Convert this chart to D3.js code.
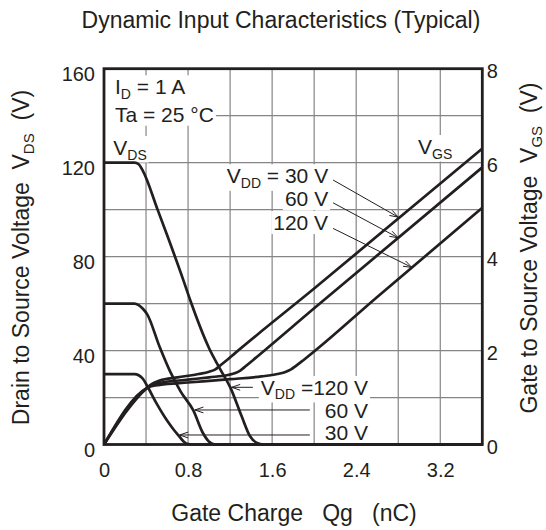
<!DOCTYPE html>
<html><head><meta charset="utf-8">
<script src="https://cdn.jsdelivr.net/npm/d3@7"></script>
<style>
html,body{margin:0;padding:0;background:#fff;}
svg text{font-family:"Liberation Sans",Arial,Helvetica,sans-serif;fill:#231f20;white-space:pre;}
</style></head><body>
<svg id="chart" width="546" height="530"></svg>
<script>
// ---------- data ----------
const qTicks   = [0, 0.8, 1.6, 2.4, 3.2];
const vdsTicks = [0, 40, 80, 120, 160];
const vgsTicks = [0, 2, 4, 6, 8];
const gridQ    = [0.4, 0.8, 1.2, 1.6, 2.0, 2.4, 2.8, 3.2];
const gridV    = [20, 40, 60, 80, 100, 120, 140];

// Drain-source voltage (V) vs gate charge (nC), left axis
const vds120 = [[0,120],[0.29,120],[0.33,119.3],[0.37,116.5],[0.51,100],[0.61,88],[0.755,70],[0.82,61.5],[1.0,41],[1.1,32.5],[1.207,23.8],[1.31,12],[1.39,3.5],[1.45,0.8],[1.52,0],[3.6,0]];
const vds60  = [[0,60],[0.29,60],[0.33,59.3],[0.37,57.8],[0.41,55.5],[0.53,41.5],[0.63,31],[0.73,22.5],[0.85,14.5],[0.94,5],[1.0,1.2],[1.06,0],[3.6,0]];
const vds30  = [[0,30],[0.29,30],[0.33,29.5],[0.37,28],[0.41,25],[0.5,17.5],[0.6,10.2],[0.66,6.5],[0.71,3.8],[0.76,1.2],[0.8,0.2],[0.84,0],[3.6,0]];

// Gate-source voltage (V) vs gate charge (nC), right axis
const vgs30  = [[0,0],[0.407,1.2],[0.45,1.28],[0.53,1.36],[0.7,1.43],[0.9,1.5],[1.0,1.55],[1.06,1.6],[1.1,1.67],[1.15,1.76],[1.25,1.95],[2.0,3.32],[3.6,6.3]];
const vgs60  = [[0,0],[0.407,1.2],[0.45,1.26],[0.53,1.31],[0.8,1.38],[1.0,1.43],[1.18,1.48],[1.25,1.52],[1.3,1.58],[1.35,1.67],[1.42,1.8],[2.0,2.9],[3.6,5.9]];
const vgs120 = [[0,0],[0.407,1.2],[0.45,1.24],[0.53,1.27],[0.8,1.32],[1.2,1.39],[1.5,1.45],[1.65,1.5],[1.72,1.54],[1.78,1.6],[1.83,1.68],[1.9,1.8],[2.6,3.14],[3.6,5.04]];

// ---------- layout ----------
const ink = "#231f20";
const svg = d3.select("#chart");
const x  = d3.scaleLinear().domain([0,3.6]).range([104,482.3]);
const yL = d3.scaleLinear().domain([0,160]).range([444.5,68.7]);
const yR = d3.scaleLinear().domain([0,8]).range([444.5,68.7]);

const gGrid  = svg.append("g");
const gBox   = svg.append("g");
const gCurve = svg.append("g");
const gArrow = svg.append("g");
const gFrame = svg.append("g");
const gText  = svg.append("g");

// grid
gGrid.selectAll("line.v").data(gridQ).join("line")
  .attr("x1",d=>x(d)).attr("x2",d=>x(d)).attr("y1",yL(0)).attr("y2",yL(160))
  .attr("stroke","#858585").attr("stroke-width",1.2);
gGrid.selectAll("line.h").data(gridV).join("line")
  .attr("y1",d=>yL(d)).attr("y2",d=>yL(d)).attr("x1",x(0)).attr("x2",x(3.6))
  .attr("stroke","#858585").attr("stroke-width",1.2);

// curves
const lineL = d3.line().x(d=>x(d[0])).y(d=>yL(d[1])).curve(d3.curveMonotoneX);
const lineR = d3.line().x(d=>x(d[0])).y(d=>yR(d[1])).curve(d3.curveMonotoneX);
[vds120, vds60, vds30].forEach(s=>gCurve.append("path").attr("d",lineL(s))
  .attr("fill","none").attr("stroke",ink).attr("stroke-width",2.7).attr("stroke-linejoin","round"));
[vgs30, vgs60, vgs120].forEach(s=>gCurve.append("path").attr("d",lineR(s))
  .attr("fill","none").attr("stroke",ink).attr("stroke-width",2.7).attr("stroke-linejoin","round"));

// frame
gFrame.append("rect").attr("x",x(0)).attr("y",yL(160)).attr("width",x(3.6)-x(0)).attr("height",yL(0)-yL(160))
  .attr("fill","none").attr("stroke",ink).attr("stroke-width",2.8);

// axes
function styleAxis(g){ g.select(".domain").remove(); g.attr("font-size",20).attr("font-family",null).attr("color",ink); }
const axB = svg.append("g").attr("transform",`translate(0,${yL(0)})`)
  .call(d3.axisBottom(x).tickValues(qTicks).tickSize(0).tickPadding(18).tickFormat(d=>d===0?"0":d3.format(".1f")(d)));
styleAxis(axB);
const axL = svg.append("g").attr("transform",`translate(${x(0)},0)`)
  .call(d3.axisLeft(yL).tickValues(vdsTicks).tickSize(0).tickPadding(9));
styleAxis(axL); axL.selectAll("text").attr("dy","0.61em");
const axR = svg.append("g").attr("transform",`translate(${x(3.6)},0)`)
  .call(d3.axisRight(yR).tickValues(vgsTicks).tickSize(0).tickPadding(4.5));
styleAxis(axR); axR.selectAll("text").attr("dy","0.46em");

// text helper with subscripts
function richText(g, px, py, parts, opts){
  const fs = opts.size, sub = opts.sub || Math.round(fs*0.67), sh = opts.shift || 4.5;
  const t = g.append("text").attr("x",px).attr("y",py).attr("font-size",fs)
    .attr("text-anchor",opts.anchor||"start").attr("xml:space","preserve");
  if(opts.transform) t.attr("transform",opts.transform);
  let down = false;
  parts.forEach(p=>{
    const ts = t.append("tspan").text(p[0]);
    if(p[1]){ ts.attr("font-size",sub).attr("dy", down?0:sh); down = true; }
    else { if(down){ ts.attr("dy",-sh); down=false; } }
  });
  return t;
}
function boxBehind(nodes, padX, padY, leftTo){
  let x0=1e9,y0=1e9,x1=-1e9,y1=-1e9;
  nodes.forEach(n=>{ const b=n.node().getBBox(); x0=Math.min(x0,b.x); y0=Math.min(y0,b.y); x1=Math.max(x1,b.x+b.width); y1=Math.max(y1,b.y+b.height); });
  if(leftTo!==undefined) x0 = leftTo+padX;
  gBox.append("rect").attr("x",x0-padX).attr("y",y0-padY).attr("width",x1-x0+2*padX).attr("height",y1-y0+2*padY).attr("fill","#fff");
}

// title
gText.append("text").attr("x",281).attr("y",28).attr("text-anchor","middle").attr("font-size",23)
  .text("Dynamic Input Characteristics (Typical)");

// axis titles
richText(gText, 294, 521, [["Gate Charge   Qg   (nC)"]], {size:23, anchor:"middle"});
richText(gText, 0, 0, [["Drain to Source Voltage  V"],["DS",1],["  (V)"]],
  {size:23, sub:15, shift:5, anchor:"middle", transform:"translate(28.5,257.5) rotate(-90)"});
richText(gText, 0, 0, [["Gate to Source Voltage  V"],["GS",1],["  (V)"]],
  {size:23, sub:15, shift:5, anchor:"middle", transform:"translate(537,248) rotate(-90)"});

// conditions
const c1 = richText(gText, 115, 94.3, [["I"],["D",1],[" = 1 A"]], {size:21, sub:14});
const c2 = richText(gText, 115, 121.7, [["Ta = 25 °C"]], {size:21});
boxBehind([c1,c2], 2, 0, x(0));

// curve group labels
const lv = richText(gText, 113.3, 155, [["V"],["DS",1]], {size:21, sub:14});
boxBehind([lv], 2, 0);
const lg = richText(gText, 418, 154, [["V"],["GS",1]], {size:21, sub:14});
boxBehind([lg], 2, 0);

// VGS VDD labels (top)
const topLab = [[[["V"],["DD",1],[" = 30 V"]], 111.2],[[["60 V"]],101.5],[[["120 V"]],91.3]];
topLab.forEach(l=>{ const t = richText(gText, x(2.133), yL(l[1]), l[0], {size:21, sub:14, anchor:"end"}); boxBehind([t],2,0); });
// VDS VDD labels (bottom)
const botLab = [[[["V"],["DD",1],[" =120 V"]], 21.1],[[["60 V"]],11.15],[[["30 V"]],1.9]];
botLab.forEach(l=>{ const t = richText(gText, x(2.513), yL(l[1]), l[0], {size:21, sub:14, anchor:"end"}); boxBehind([t],2,0); });

// arrows [tail nC, tail V(left scale), tip nC, tip V(left scale)]
const arrows = [
  [2.18,112.6, 2.80,yR.invert(yR(4.84))*20],
  [2.18,102.9, 2.80,4.40*20],
  [2.18, 92.0, 2.93,3.77*20],
  [1.417,24.35, 1.215,24.35],
  [1.959,14.7, 0.865,14.7],
  [1.959,4.05, 0.72,4.05]
];
arrows.forEach(a=>{
  const x1=x(a[0]), y1=yL(a[1]), x2=x(a[2]), y2=yL(a[3]);
  const ang=Math.atan2(y2-y1,x2-x1), L=9, h=0.33;
  gArrow.append("line").attr("x1",x1).attr("y1",y1).attr("x2",x2).attr("y2",y2).attr("stroke",ink).attr("stroke-width",1);
  gArrow.append("polyline").attr("points",[
    [x2-L*Math.cos(ang-h), y2-L*Math.sin(ang-h)],[x2,y2],[x2-L*Math.cos(ang+h), y2-L*Math.sin(ang+h)]
  ].map(p=>p.join(",")).join(" ")).attr("fill","none").attr("stroke",ink).attr("stroke-width",1);
});
</script>
</body></html>
